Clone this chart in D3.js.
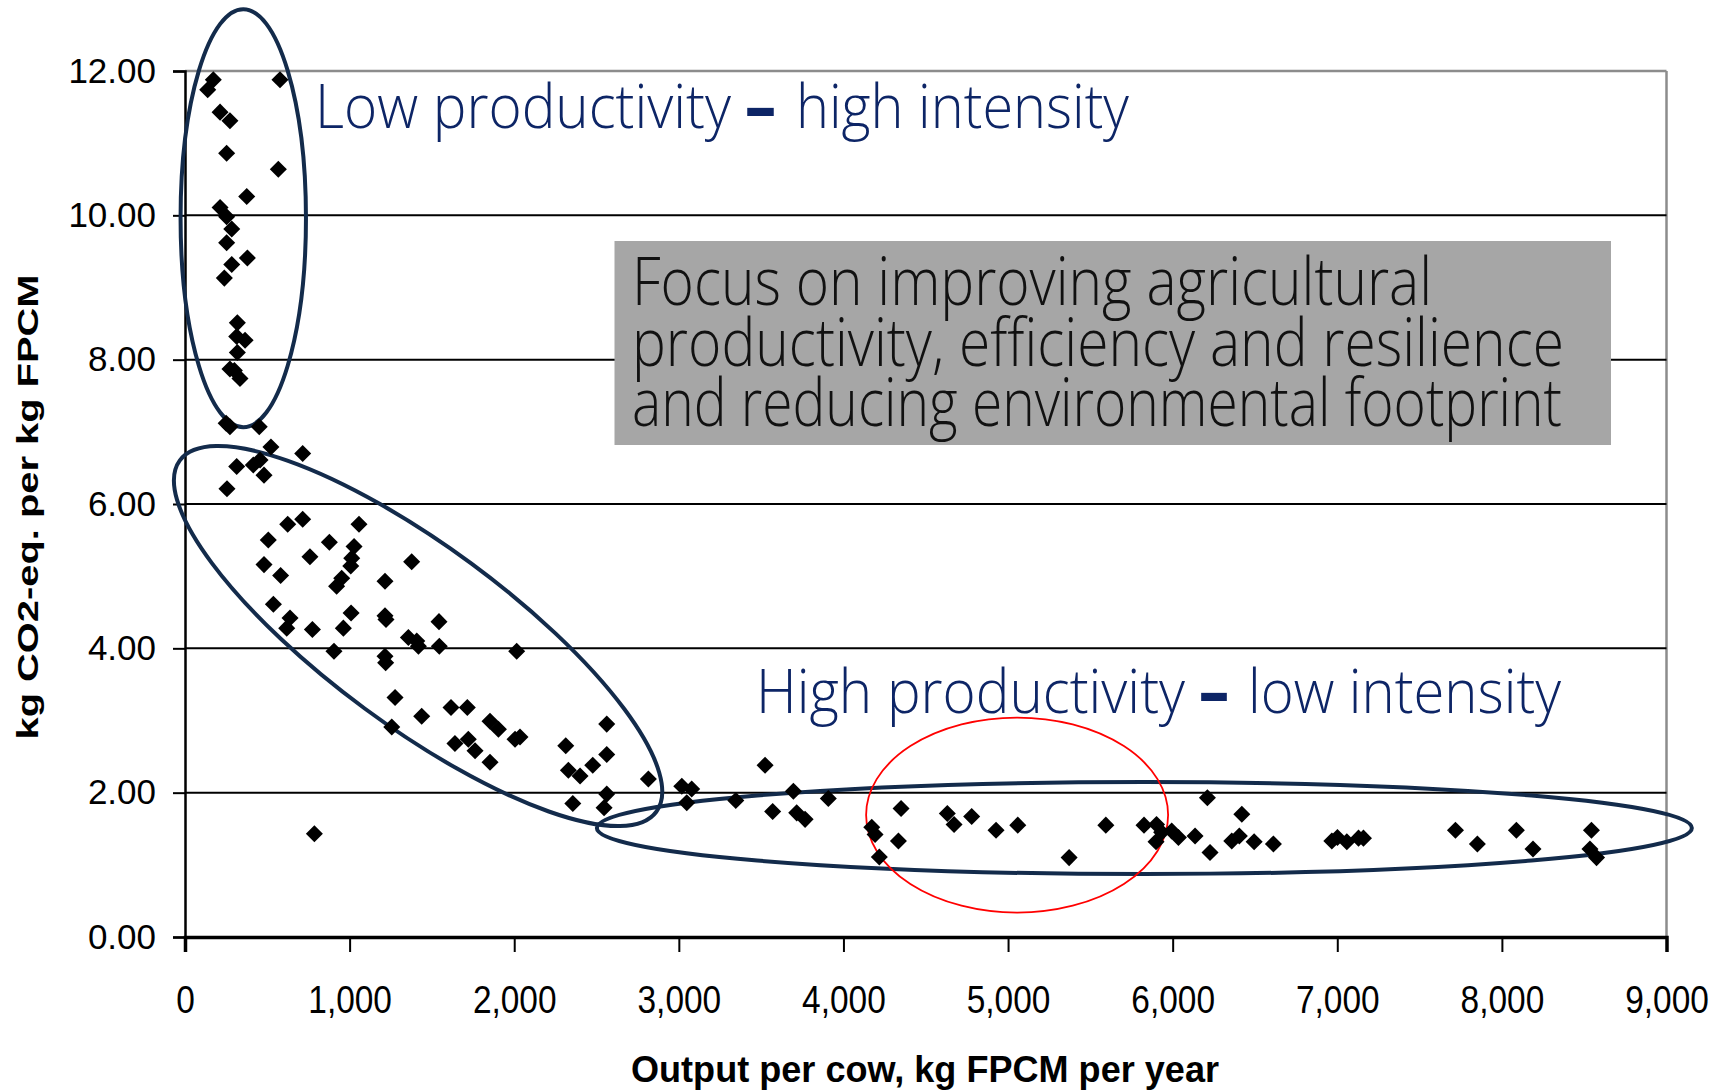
<!DOCTYPE html>
<html><head><meta charset="utf-8">
<script src="https://cdn.jsdelivr.net/npm/d3@7"></script>
<style>body{margin:0;background:#fff;} svg{display:block;}</style>
</head><body>
<svg id="chart" width="1727" height="1090"></svg>
<script>
// ---- data ----
const outputPerCow = [
  172,138,213,273,577,253,567,375,213,253,284,253,379,284,239,318,365,314,318,273,334,300,
  273,250,451,522,715,314,415,456,480,255,
  624,715,1057,506,877,1027,759,1013,1007,1377,480,581,952,921,1215,537,638,618,774,1009,962,
  1215,1221,1543,1357,1408,1418,1545,905,1215,1219,2015,1276,1438,1256,1616,1715,1640,1721,1762,
  1853,1904,1853,2005,786,2035,
  2313,2562,2562,2329,2400,2477,2815,2356,2562,2546,3018,3078,3048,3524,3346,3696,3908,3570,3716,3767,
  4172,4192,4218,4350,4334,4631,4672,4779,4927,5059,5371,5594,5826,5902,5933,5899,5994,6035,6136,
  6211,6227,6420,6359,6405,6495,6612,
  6967,7001,7058,7129,7159,7718,7851,8088,8189,8544,8535,8575
];
const emissionIntensity = [
  11.88,11.74,11.43,11.31,11.88,10.86,10.64,10.26,10.11,9.98,9.81,9.62,9.41,9.32,9.13,8.51,8.27,8.32,8.10,7.87,7.74,7.85,
  7.07,7.12,7.07,6.79,6.70,6.52,6.54,6.61,6.40,6.21,
  5.72,5.79,5.72,5.50,5.47,5.41,5.27,5.25,5.14,5.20,5.16,5.01,4.97,4.86,4.93,4.61,4.42,4.28,4.26,4.49,4.28,
  4.45,4.40,4.37,4.15,4.10,4.03,4.03,3.96,3.89,3.80,3.96,3.32,3.06,2.91,3.18,3.18,2.68,2.74,2.58,
  2.99,2.88,2.42,2.74,1.43,2.77,
  2.65,2.95,2.53,2.31,2.23,2.38,2.19,1.85,1.98,1.79,2.09,2.05,1.86,2.38,1.89,2.02,1.92,1.74,1.72,1.63,
  1.52,1.42,1.11,1.78,1.33,1.71,1.56,1.67,1.48,1.55,1.10,1.55,1.55,1.56,1.45,1.32,1.47,1.38,1.40,
  1.93,1.17,1.70,1.33,1.40,1.32,1.29,
  1.33,1.38,1.32,1.37,1.37,1.48,1.29,1.48,1.22,1.48,1.22,1.10
];
const xTickValues = [0,1000,2000,3000,4000,5000,6000,7000,8000,9000];
const yTickValues = [0,2,4,6,8,10,12];
const xTitle = "Output per cow, kg FPCM per year";
const yTitle = "kg CO2-eq. per kg FPCM";
const lowLabel = ["Low productivity", "\u2013", "high intensity"];
const highLabel = ["High productivity", "\u2013", "low intensity"];
const boxLines = ["Focus on improving agricultural",
                  "productivity, efficiency and resilience",
                  "and reducing environmental footprint"];
// annotation ellipses: centre in data units
const ellipseCx = [354, 1416, 5828, 5055];
const ellipseCy = [9.96, 4.17, 1.51, 1.69];

// ---- layout ----
const svg = d3.select("#chart");
const x = d3.scaleLinear().domain([0, 9000]).range([185, 1666.5]);
const y = d3.scaleLinear().domain([0, 12]).range([937, 71]);
const navy = "#132b4b", textNavy = "#0d2566";
const lightFont = "'Open Sans', Lato, Roboto, sans-serif";

// plot border (top / right, grey)
svg.append("line").attr("x1", x(0)).attr("x2", x(9000)).attr("y1", y(12)).attr("y2", y(12))
  .attr("stroke", "#8c8c8c").attr("stroke-width", 2.5);
svg.append("line").attr("x1", x(9000)).attr("x2", x(9000)).attr("y1", y(12)).attr("y2", y(0))
  .attr("stroke", "#8c8c8c").attr("stroke-width", 2.5);

// gridlines
svg.append("g").selectAll("line").data(yTickValues.filter(d => d > 0 && d < 12)).join("line")
  .attr("x1", x(0)).attr("x2", x(9000)).attr("y1", d => y(d)).attr("y2", d => y(d))
  .attr("stroke", "#000").attr("stroke-width", 2);

// y axis
const yAxis = svg.append("g").attr("transform", `translate(${x(0)},0)`)
  .call(d3.axisLeft(y).tickValues(yTickValues).tickFormat(d3.format(".2f")).tickSize(12).tickPadding(17));
yAxis.select(".domain").attr("stroke", "#000").attr("stroke-width", 2.5);
yAxis.selectAll(".tick line").attr("stroke", "#000").attr("stroke-width", 2);
yAxis.selectAll(".tick text").attr("font-family", "'Liberation Sans', Arial, sans-serif")
  .attr("font-size", 35).attr("fill", "#000");

// x axis
const xAxis = svg.append("g").attr("transform", `translate(0,${y(0)})`)
  .call(d3.axisBottom(x).tickValues(xTickValues).tickFormat(d3.format(",")).tickSize(15).tickPadding(34));
xAxis.select(".domain").attr("stroke", "#000").attr("stroke-width", 3.5);
xAxis.selectAll(".tick line").attr("stroke", "#000").attr("stroke-width", 2);
xAxis.selectAll(".tick text").attr("font-family", "'Liberation Sans', Arial, sans-serif")
  .attr("font-size", 38).attr("fill", "#000").attr("transform", "scale(0.88,1)");

// axis titles
svg.append("text").attr("x", 925).attr("y", 1082).attr("text-anchor", "middle")
  .attr("font-family", "'Liberation Sans', Arial, sans-serif").attr("font-weight", "bold")
  .attr("font-size", 37).attr("textLength", 588).attr("lengthAdjust", "spacingAndGlyphs")
  .text(xTitle);
svg.append("text").attr("transform", "translate(38,507) rotate(-90)").attr("text-anchor", "middle")
  .attr("font-family", "'Liberation Sans', Arial, sans-serif").attr("font-weight", "bold")
  .attr("font-size", 30).attr("textLength", 465).attr("lengthAdjust", "spacingAndGlyphs")
  .text(yTitle);

// grey box
svg.append("rect").attr("x", 614.5).attr("y", 241).attr("width", 996.5).attr("height", 204)
  .attr("fill", "#a6a6a6");
const boxBase = [305, 366, 426], boxLen = [800, 932, 930];
const boxText = svg.append("text")
  .attr("font-family", lightFont).attr("font-weight", 300)
  .attr("font-size", 66).attr("fill", "#111");
boxText.selectAll("tspan").data(boxLines).join("tspan")
  .attr("x", 632).attr("y", (d, i) => boxBase[i])
  .attr("textLength", (d, i) => boxLen[i]).attr("lengthAdjust", "spacingAndGlyphs")
  .text(d => d);

// ellipses
const ell = svg.append("g").attr("fill", "none");
const ellRx = [62.7, 296, 547.5, 151], ellRy = [209, 90, 46, 97.5], ellRot = [0, 36.4, 0, 0];
const ellStroke = [navy, navy, navy, "#ff0000"], ellW = [4, 4, 4, 1.8];
ell.selectAll("ellipse").data(ellipseCx).join("ellipse")
  .attr("transform", (d, i) => `translate(${x(d)},${y(ellipseCy[i])}) rotate(${ellRot[i]})`)
  .attr("rx", (d, i) => ellRx[i]).attr("ry", (d, i) => ellRy[i])
  .attr("stroke", (d, i) => ellStroke[i]).attr("stroke-width", (d, i) => ellW[i]);

// points
const pts = outputPerCow.map((v, i) => [v, emissionIntensity[i]]);
svg.append("g").selectAll("path").data(pts).join("path")
  .attr("transform", d => `translate(${x(d[0])},${y(d[1])})`)
  .attr("d", d3.symbol().type(d3.symbolDiamond2).size(185))
  .attr("fill", "#000");

// big labels (one text element each, parts as tspans)
function bigLabel(parts, xs, lens, base) {
  const t = svg.append("text").attr("fill", textNavy).attr("y", base)
    .attr("font-family", lightFont).attr("font-size", 60);
  parts.forEach((p, i) => {
    t.append("tspan").attr("x", xs[i]).attr("y", base)
      .attr("font-weight", i === 1 ? 800 : 300)
      .attr("textLength", lens[i]).attr("lengthAdjust", "spacingAndGlyphs").text(p);
  });
}
bigLabel(lowLabel, [315, 745, 796], [416, 31, 333], 128);
bigLabel(highLabel, [756, 1199, 1248], [429, 30, 313], 713);
</script>
</body></html>
